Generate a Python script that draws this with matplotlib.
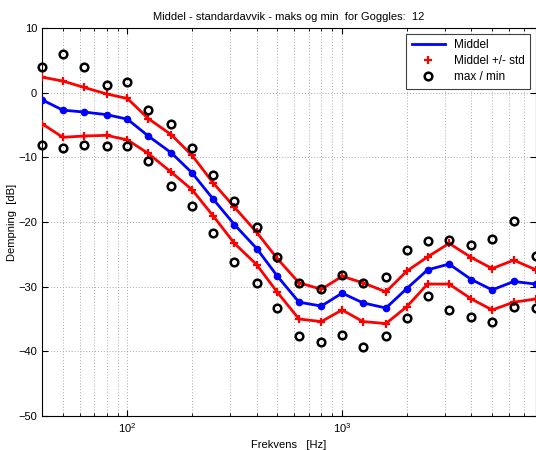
"""Middel, standardavvik og maks/min demping for Goggles (tersbånd)."""

import matplotlib

matplotlib.use("Agg")
import matplotlib.pyplot as plt
from matplotlib.lines import Line2D
from matplotlib.ticker import LogLocator, NullFormatter, FixedLocator

plt.rcParams["font.family"] = ["Liberation Sans", "DejaVu Sans"]

freq = [40, 50, 63, 80, 100, 125, 160, 200, 250, 315, 400, 500, 630,
        800, 1000, 1250, 1600, 2000, 2500, 3150, 4000, 5000, 6300, 8000]
middel = [-1.1, -2.7, -3.0, -3.4, -4.1, -6.7, -9.3, -12.4, -16.4, -20.4,
          -24.1, -28.4, -32.4, -33.0, -31.0, -32.5, -33.3, -30.3, -27.4,
          -26.5, -28.9, -30.5, -29.2, -29.6]
middel_pluss = [2.4, 1.8, 0.8, -0.2, -0.9, -4.0, -6.5, -9.7, -13.9, -17.7,
                -21.6, -25.7, -29.4, -30.4, -28.4, -29.4, -30.8, -27.6, -25.4,
                -23.3, -25.5, -27.2, -25.9, -27.4]
middel_minus = [-4.8, -6.9, -6.7, -6.6, -7.3, -9.4, -12.3, -15.0, -19.0, -23.3,
                -26.6, -30.9, -35.0, -35.4, -33.6, -35.4, -35.7, -33.1, -29.6,
                -29.6, -31.9, -33.6, -32.4, -31.9]
maks = [4.0, 6.0, 3.9, 1.2, 1.7, -2.7, -4.8, -8.6, -12.7, -16.7, -20.8, -25.4,
        -29.4, -30.3, -28.2, -29.4, -28.5, -24.4, -23.0, -22.8, -23.6, -22.7,
        -19.8, -25.2]
minimum = [-8.1, -8.6, -8.1, -8.3, -8.2, -10.5, -14.5, -17.6, -21.7, -26.2,
           -29.4, -33.3, -37.7, -38.5, -37.5, -39.4, -37.7, -34.9, -31.4,
           -33.6, -34.7, -35.4, -33.1, -33.3]

fig = plt.figure(figsize=(5.36, 4.5), dpi=100)
ax = fig.add_axes([42 / 536, 34 / 450, 494 / 536, 388 / 450])

ax.plot(freq, middel, "-", color="blue", lw=2, marker="o", ms=4.5, mec="blue", zorder=3)
for serie in (middel_pluss, middel_minus):
    ax.plot(freq, serie, "-", color="red", lw=2, zorder=3)
    ax.plot(freq, serie, "+", color="red", ms=6, mew=1.6, zorder=4)
ax.plot(freq, maks, "o", mfc="none", mec="black", ms=5.5, mew=1.8, zorder=4, clip_on=False)
ax.plot(freq, minimum, "o", mfc="none", mec="black", ms=5.5, mew=1.8, zorder=4, clip_on=False)

ax.set_xscale("log")
ax.set_xlim(40, 8000)
ax.set_ylim(-50, 10)
ax.yaxis.set_major_locator(FixedLocator(range(-50, 11, 10)))
ax.xaxis.set_major_locator(LogLocator(base=10, numticks=10))
ax.xaxis.set_minor_locator(LogLocator(base=10, subs=range(2, 10), numticks=20))
ax.xaxis.set_minor_formatter(NullFormatter())
ax.grid(True, which="both", ls=(0, (1, 2)), color="#a8a8a8", lw=0.7)
ax.tick_params(which="both", direction="in", top=True, right=True, labelsize=8)
ax.tick_params(which="major", length=4)
ax.tick_params(which="minor", length=2)

ax.set_title("Middel - standardavvik - maks og min  for Goggles:  12", fontsize=8)
ax.set_xlabel("Frekvens   [Hz]", fontsize=8)
ax.set_ylabel("Dempning  [dB]", fontsize=8, labelpad=1)

handles = [
    Line2D([], [], color="blue", lw=2),
    Line2D([], [], color="red", marker="+", ls="none", ms=6, mew=1.6),
    Line2D([], [], color="black", marker="o", mfc="none", ls="none", ms=5.5, mew=1.8),
]
leg = ax.legend(handles, ["Middel", "Middel +/- std", "max / min"], loc="upper right",
                fontsize=8.5, fancybox=False, framealpha=1, edgecolor="#404040",
                borderaxespad=0.5, handlelength=2.8, labelspacing=0.35,
                borderpad=0.45)
leg.get_frame().set_linewidth(0.8)

fig.savefig("out.png", dpi=100)
